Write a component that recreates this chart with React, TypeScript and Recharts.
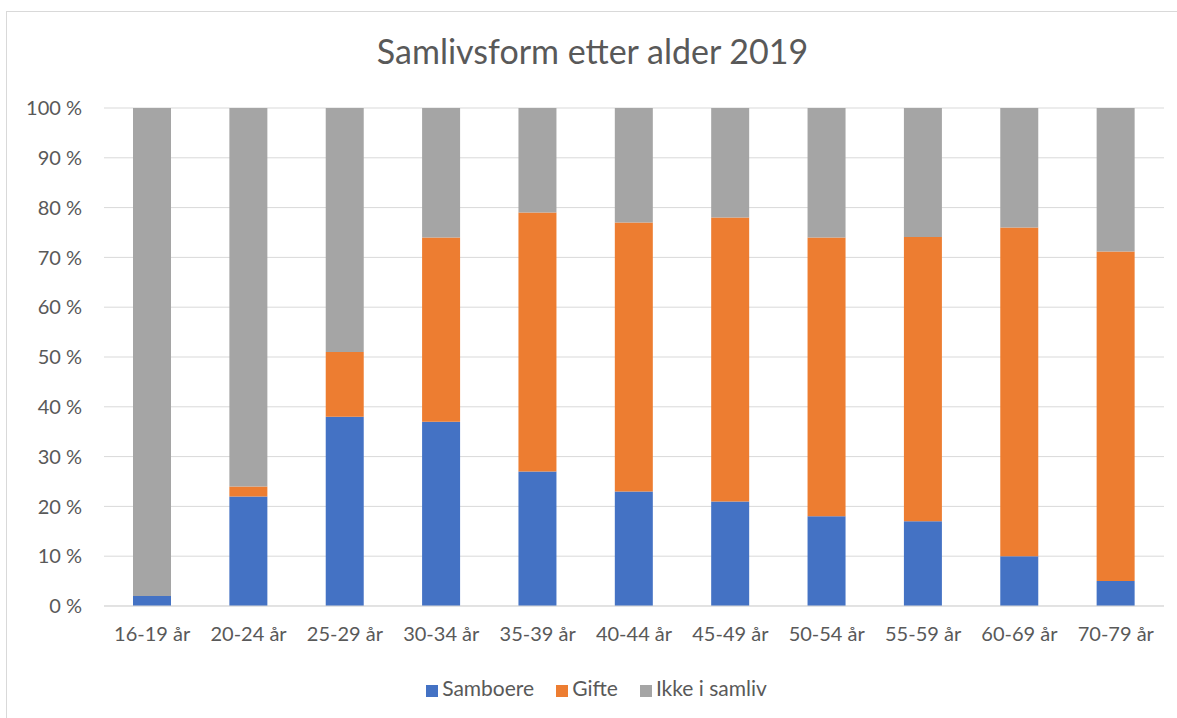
import { BarChart, Bar, XAxis, YAxis, CartesianGrid, Legend } from 'recharts';

const categories = ['16-19 år', '20-24 år', '25-29 år', '30-34 år', '35-39 år', '40-44 år', '45-49 år', '50-54 år', '55-59 år', '60-69 år', '70-79 år'];
const samboere = [2, 22, 38, 37, 27, 23, 21, 18, 17, 10, 5];
const gifte = [0, 2, 13, 37, 52, 54, 57, 56, 57.1, 66, 66.2];
const ikkeISamliv = [98, 76, 49, 26, 21, 23, 22, 26, 25.9, 24, 28.8];
const yTicks = [0, 10, 20, 30, 40, 50, 60, 70, 80, 90, 100];
const seriesOrder = ['Samboere', 'Gifte', 'Ikke i samliv'];

const data = categories.map((alder, i) => ({
  alder,
  samboere: samboere[i],
  gifte: gifte[i],
  ikke: ikkeISamliv[i],
}));

const textColor = '#595959';
const font = 'Lato, "Open Sans", sans-serif';

export default function App() {
  return (
    <div
      style={{
        position: 'absolute',
        left: 6,
        top: 11,
        width: 1171,
        height: 707,
        borderLeft: '1px solid #D9D9D9',
        borderTop: '1px solid #D9D9D9',
        background: '#fff',
        fontFamily: font,
      }}
    >
      <div
        style={{
          position: 'absolute',
          top: 18,
          left: 0,
          width: 1171,
          textAlign: 'center',
          fontSize: 34,
          color: textColor,
        }}
      >
        Samlivsform etter alder 2019
      </div>
      <BarChart
        width={1171}
        height={707}
        data={data}
        margin={{ top: 96, right: 14, left: 0, bottom: 19 }}
      >
        <CartesianGrid vertical={false} stroke="#D9D9D9" strokeWidth={1} />
        <XAxis
          dataKey="alder"
          height={69}
          tickLine={false}
          tickMargin={15}
          axisLine={{ stroke: '#D9D9D9' }}
          tick={{ fill: textColor, fontSize: 20, fontFamily: font }}
          interval={0}
        />
        <YAxis
          width={97}
          domain={[0, 100]}
          ticks={yTicks}
          axisLine={false}
          tickLine={false}
          tickMargin={16}
          tick={{ fill: textColor, fontSize: 20, fontFamily: font }}
          tickFormatter={(v: number) => `${v} %`}
        />
        <Legend
          verticalAlign="bottom"
          iconType="square"
          iconSize={12}
          itemSorter={(item: { value?: string }) => seriesOrder.indexOf(String(item.value))}
          wrapperStyle={{ fontSize: 21, fontFamily: font, paddingLeft: 22 }}
          formatter={(value: string) => <span style={{ color: textColor, marginRight: 12 }}>{value}</span>}
        />
        <Bar dataKey="samboere" name="Samboere" stackId="a" fill="#4472C4" barSize={38} isAnimationActive={false} />
        <Bar dataKey="gifte" name="Gifte" stackId="a" fill="#ED7D31" barSize={38} isAnimationActive={false} />
        <Bar dataKey="ikke" name="Ikke i samliv" stackId="a" fill="#A5A5A5" barSize={38} isAnimationActive={false} />
      </BarChart>
    </div>
  );
}
